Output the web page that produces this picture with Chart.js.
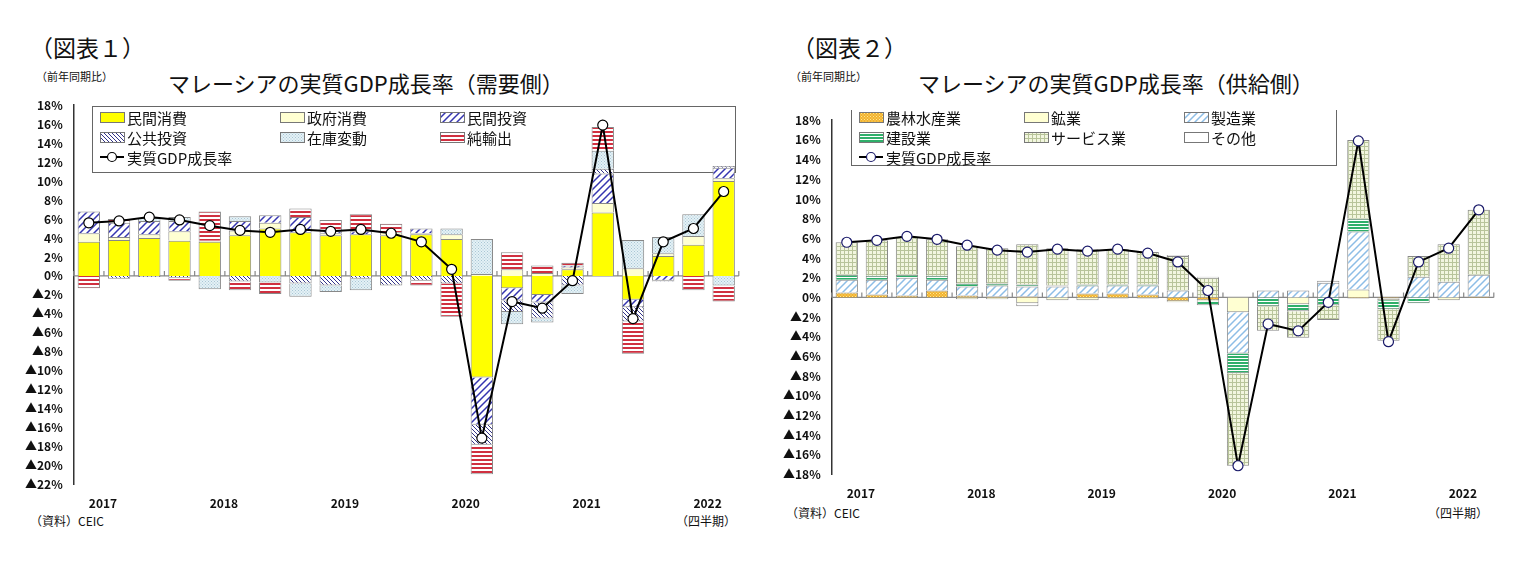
<!DOCTYPE html>
<html><head><meta charset="utf-8">
<script src="https://cdn.jsdelivr.net/npm/chart.js@4/dist/chart.umd.min.js"></script>
<style>
body{margin:0;width:1516px;height:561px;background:#fff;position:relative;font-family:"Noto Sans CJK JP",sans-serif;overflow:hidden}
.t{position:absolute;white-space:nowrap;color:#111}
.box{position:absolute}
</style></head><body>
<div class="t" style="left:30px;top:30px;font-size:23px">（図表１）</div>
<div class="t" style="left:792px;top:30px;font-size:23px">（図表２）</div>
<div class="t" style="left:36px;top:68px;font-size:11px">（前年同期比）</div>
<div class="t" style="left:790px;top:68px;font-size:11px">（前年同期比）</div>
<div class="t" style="left:168px;top:66px;font-size:22px">マレーシアの実質GDP成長率（需要側）</div>
<div class="t" style="left:918px;top:66px;font-size:22px">マレーシアの実質GDP成長率（供給側）</div>
<div class="t" style="left:30px;top:512px;font-size:12px">（資料）CEIC</div>
<div class="t" style="left:676px;top:512px;font-size:12px">（四半期）</div>
<div class="t" style="left:786px;top:504px;font-size:12px">（資料）CEIC</div>
<div class="t" style="left:1428px;top:504px;font-size:12px">（四半期）</div>
<div class="box" style="left:22px;top:95px;width:723px;height:420px"><canvas id="c1"></canvas></div>
<div class="box" style="left:780px;top:110px;width:720px;height:395px"><canvas id="c2"></canvas></div>
<script>
const quarters=["2017","","","","2018","","","","2019","","","","2020","","","","2021","","","","2022",""];
const gdp=[5.6,5.8,6.2,5.9,5.3,4.8,4.6,4.9,4.7,4.9,4.5,3.6,0.7,-17.1,-2.7,-3.4,-0.5,15.9,-4.5,3.6,5.0,8.9];
// demand side
const privCons=[3.6,3.8,4.0,3.7,3.6,4.3,5.0,4.6,4.3,4.4,4.3,4.4,3.9,-10.7,-1.3,-2.0,0.7,6.7,-2.5,2.1,3.3,10.0];
const govCons=[0.9,0.3,0.4,1.0,0.1,0.5,0.6,0.0,0.2,0.0,0.3,0.1,0.5,0.2,0.7,0.3,0.2,1.0,0.8,0.3,0.9,0.3];
const privInv=[2.3,1.5,1.4,1.1,0.0,1.0,0.8,1.6,0.2,0.3,0.0,0.5,0.0,-5.0,-1.3,-0.8,0.2,3.1,-0.8,-0.5,0.0,1.1];
const pubInv=[0.0,-0.3,-0.1,-0.2,0.0,-0.6,0.0,-0.8,-1.0,-0.3,-1.0,-0.5,-0.8,-2.1,-1.2,-1.7,-1.0,0.5,-1.5,-0.1,0.0,0.2];
const inventory=[0.0,0.0,0.3,0.4,-1.4,0.5,-0.7,-1.4,-0.7,-1.2,0.0,0.0,0.6,3.7,-1.3,-0.4,-0.9,1.9,3.0,1.7,2.3,-1.0];
const netExp=[-1.3,0.4,0.0,-0.3,3.1,-0.9,-1.2,0.9,1.2,1.8,0.9,-0.5,-3.5,-3.1,1.8,0.8,0.3,2.5,-3.4,0.0,-1.5,-1.7];
// supply side
const agri=[0.5,0.3,0.2,0.7,0.2,0.1,0.1,0.0,0.4,0.4,0.3,-0.4,-0.3,0.0,0.0,0.0,0.0,-0.1,-0.1,0.0,0.0,0.1];
const mining=[0.0,0.0,0.0,0.0,-0.2,-0.2,-0.6,-0.3,-0.3,-0.1,-0.1,-0.1,-0.1,-1.5,0.0,-0.7,0.0,0.8,-0.2,0.0,-0.3,0.0];
const mfg=[1.3,1.5,1.8,1.1,0.9,1.1,1.0,1.1,0.8,0.8,0.9,0.7,0.0,-4.2,0.7,0.7,1.5,5.9,0.0,2.1,1.6,2.2];
const constr=[0.5,0.4,0.3,0.4,0.3,0.2,0.2,0.1,0.1,0.1,0.1,0.0,-0.4,-2.0,-0.9,-0.7,-0.8,1.3,-0.9,-0.6,0.0,0.0];
const services=[3.3,3.6,3.8,3.7,3.8,3.6,4.1,3.8,3.6,3.6,3.3,3.5,2.0,-9.4,-2.5,-2.7,-1.5,8.0,-3.2,2.1,3.8,6.6];
const other=[0.0,0.0,0.0,0.0,0.0,0.0,-0.3,0.0,0.0,0.0,0.0,0.1,0.1,0.0,0.0,0.0,0.2,0.0,0.0,0.0,0.0,0.0];

function pat(bg,fg,type,s){
  s=s||6;const c=document.createElement('canvas');c.width=s;c.height=s;const g=c.getContext('2d');
  g.fillStyle=bg;g.fillRect(0,0,s,s);g.strokeStyle=fg;g.fillStyle=fg;g.lineWidth=1.5;
  if(type==='fwd'){g.beginPath();g.moveTo(0,s);g.lineTo(s,0);g.moveTo(-1,1);g.lineTo(1,-1);g.moveTo(s-1,s+1);g.lineTo(s+1,s-1);g.stroke();}
  if(type==='back'){g.lineWidth=1;g.beginPath();g.moveTo(0,0);g.lineTo(s,s);g.moveTo(s-1,-1);g.lineTo(s+1,1);g.moveTo(-1,s-1);g.lineTo(1,s+1);g.stroke();}
  if(type==='horiz'){g.fillRect(0,0,s,Math.ceil(s/2));}
  if(type==='dots'){g.fillRect(0,0,1,1);g.fillRect(s/2,s/2,1,1);}
  if(type==='grid'){g.lineWidth=1;g.beginPath();g.moveTo(0,0.5);g.lineTo(s,0.5);g.moveTo(0.5,0);g.lineTo(0.5,s);g.stroke();}
  return document.createElement('canvas').getContext('2d').createPattern(c,'repeat');
}
const F='"Noto Sans CJK JP",sans-serif';
function drawZero(ch){const y=ch.scales.y,ctx=ch.ctx;const y0=y.getPixelForValue(0);
  ctx.save();ctx.strokeStyle='#888';ctx.lineWidth=1.2;ctx.beginPath();ctx.moveTo(ch.chartArea.left,y0);ctx.lineTo(ch.chartArea.right,y0);
  const w=(ch.chartArea.right-ch.chartArea.left)/quarters.length;
  for(let i=0;i<=quarters.length;i++){const px=ch.chartArea.left+i*w;ctx.moveTo(px,y0);ctx.lineTo(px,y0-5);}
  ctx.stroke();ctx.restore();}
function legendPlugin(box,cols){return {id:'lg',beforeDatasetsDraw(ch){const ctx=ch.ctx;ctx.save();
  ctx.fillStyle='#fff';ctx.strokeStyle='#666';ctx.lineWidth=1;ctx.fillRect(box[0],box[1],box[2],box[3]);ctx.strokeRect(box[0]+.5,box[1]+.5,box[2],box[3]);
  ctx.font='15px '+F;ctx.textBaseline='middle';
  const ds=ch.data.datasets;let k=0;
  ds.forEach((d)=>{if(d.type==='line')return;const c=k%3,r=Math.floor(k/3);const x=box[0]+8+cols[c],y=box[1]+11+r*20;
    ctx.fillStyle=d.backgroundColor;ctx.fillRect(x,y-5,24,10);ctx.strokeStyle='#777';ctx.strokeRect(x+.5,y-5+.5,24,10);
    ctx.fillStyle='#111';ctx.fillText(d.label,x+27,y+1);k++;});
  const ld=ds.find(d=>d.type==='line');const r=Math.floor((k+2)/3);const x=box[0]+8,y=box[1]+11+r*20;
  ctx.strokeStyle='#000';ctx.lineWidth=2;ctx.beginPath();ctx.moveTo(x,y);ctx.lineTo(x+24,y);ctx.stroke();
  ctx.beginPath();ctx.arc(x+12,y,4.5,0,Math.PI*2);ctx.fillStyle='#fff';ctx.fill();ctx.lineWidth=1.2;ctx.strokeStyle=ld.pointBorderColor;ctx.stroke();
  ctx.fillStyle='#111';ctx.fillText(ld.label,x+27,y+1);ctx.restore();drawZero(ch);}};}
function bar(label,data,bg){return {type:'bar',label,data,backgroundColor:bg,borderColor:'#888',borderWidth:1,stack:'s',barPercentage:0.74,categoryPercentage:1,order:2};}
function line(pc){return {type:'line',label:'実質GDP成長率',data:gdp,borderColor:'#000',borderWidth:2,pointRadius:5,pointBackgroundColor:'#fff',pointBorderColor:pc,pointBorderWidth:1.2,stack:'l',order:0};}
function opts(min,max,pad){return {responsive:true,maintainAspectRatio:false,animation:false,layout:{padding:pad},
  plugins:{legend:{display:false},tooltip:{enabled:false}},
  scales:{x:{stacked:true,grid:{display:false},border:{display:false},ticks:{autoSkip:false,maxRotation:0,font:{size:12,family:F,weight:'bold'},color:'#111',callback:(v,i)=>quarters[i],align:'start',padding:4}},
  y:{stacked:true,min,max,grid:{display:false,drawTicks:true},border:{color:'#333',width:1.5},
   ticks:{stepSize:2,autoSkip:false,font:{size:12,family:F,weight:'bold'},color:'#111',callback:v=>(v<0?'▲'+(-v):v)+'%'}}}};}
new Chart(document.getElementById('c1'),{data:{labels:quarters,datasets:[
  bar('民間消費',privCons,'#FFFF00'),bar('政府消費',govCons,'#FFFFD2'),bar('民間投資',privInv,pat('#fff','#3535B0','fwd',7)),
  bar('公共投資',pubInv,pat('#fff','#333388','back',4)),bar('在庫変動',inventory,pat('#E4F1F6','#A9C6D4','dots',3)),bar('純輸出',netExp,pat('#fff','#D03040','horiz',4)),line('#000')]},
  options:opts(-22,18,{top:9,right:2,bottom:0,left:0}),plugins:[legendPlugin([70,11,643,66],[0,180,340])]});
new Chart(document.getElementById('c2'),{data:{labels:quarters,datasets:[
  bar('農林水産業',agri,pat('#F2B22E','#FFE890','dots',3)),bar('鉱業',mining,'#FFFFD2'),bar('製造業',mfg,pat('#fff','#8DBDE6','fwd',7)),
  bar('建設業',constr,pat('#fff','#2FAF6A','horiz',3)),bar('サービス業',services,pat('#F2F6DF','#B8C49A','grid',4)),bar('その他',other,'#fff'),line('#1a1a6a')]},
  options:opts(-18,18,{top:6,right:6,bottom:0,left:0}),plugins:[legendPlugin([71,-4,485,59],[0,165,325])]});
</script></body></html>
